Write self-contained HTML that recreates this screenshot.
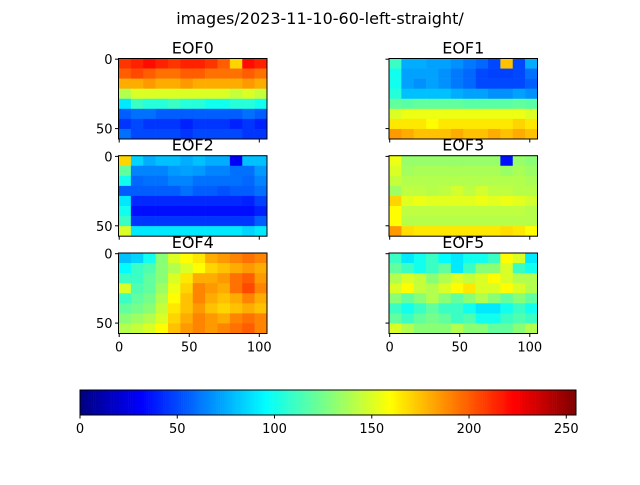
<!DOCTYPE html>
<html><head><meta charset="utf-8"><style>
body{margin:0;background:#fff}
svg text{font-family:"DejaVu Sans","Liberation Sans",sans-serif;fill:#000}
</style></head><body>
<svg id="fig" width="640" height="480" viewBox="0 0 640 480">
<text x="320" y="24" font-size="16" text-anchor="middle">images/2023-11-10-60-left-straight/</text>
</svg>
<script>
const panelTitles = ["EOF0","EOF1","EOF2","EOF3","EOF4","EOF5"];
const xTicks = [0,50,100];
const yTicks = [0,50];
const cbTicks = [0,50,100,150,200,250];
const eof0 = [
[210,215,220,215,210,215,215,210,200,170,220,215],
[200,205,200,195,195,200,200,195,195,195,200,195],
[180,180,185,180,180,185,180,180,180,180,185,180],
[140,150,150,150,150,150,150,150,150,145,150,145],
[90,110,105,105,110,105,105,100,100,105,105,100],
[55,60,60,55,55,55,55,55,55,55,60,55],
[45,50,45,45,45,40,45,45,45,40,45,40],
[60,50,50,50,50,45,50,50,50,50,45,45]];
const eof1 = [
[110,75,75,72,72,68,62,58,50,175,50,75],
[100,72,72,72,68,62,58,50,48,48,50,60],
[100,72,68,72,68,62,58,50,50,50,50,55],
[105,80,80,80,80,75,72,72,68,68,72,68],
[120,118,120,120,120,120,118,118,118,118,120,118],
[150,155,155,155,155,155,155,155,155,155,155,150],
[165,165,165,160,165,165,165,165,165,165,170,165],
[185,180,175,175,175,180,175,175,180,175,180,175]];
const eof2 = [
[170,85,75,80,80,75,80,75,75,30,80,80],
[120,65,65,65,70,72,70,65,65,60,60,70],
[100,58,60,60,65,65,60,60,60,60,58,65],
[55,55,55,55,55,60,55,55,52,55,55,60],
[90,42,42,42,42,42,42,42,42,42,40,48],
[100,35,35,35,35,35,35,35,35,35,35,40],
[110,45,45,45,45,45,45,45,45,45,45,55],
[150,90,90,90,90,90,90,90,90,90,85,90]];
const eof3 = [
[155,133,133,133,133,133,133,133,133,35,133,130],
[150,136,138,138,138,138,138,138,138,134,138,134],
[145,140,140,140,140,140,140,140,140,140,140,138],
[135,143,143,141,143,148,143,148,143,143,141,141],
[170,152,155,152,152,152,152,155,152,155,152,148],
[160,143,143,143,143,143,143,143,143,143,143,141],
[160,141,141,141,141,141,141,141,141,141,141,141],
[185,168,165,165,165,165,165,165,165,168,165,160]];
const eof4 = [
[80,85,100,130,150,160,165,180,185,190,195,190],
[95,110,115,130,140,150,160,170,175,180,185,180],
[110,110,120,130,150,165,180,180,185,195,200,185],
[150,115,120,135,155,170,190,185,180,195,205,190],
[110,120,125,140,160,175,190,180,175,180,190,180],
[120,125,130,145,165,175,185,175,170,175,180,175],
[130,135,140,150,170,180,190,185,180,190,195,190],
[140,145,150,160,175,185,190,185,190,195,200,190]];
const eof5 = [
[110,90,100,110,95,90,100,100,110,160,150,90],
[120,110,100,110,120,90,110,130,130,150,110,100],
[140,150,145,130,140,150,145,150,160,150,140,140],
[150,160,145,140,150,160,165,150,150,160,150,140],
[130,120,130,140,130,120,130,140,130,120,130,120],
[110,100,110,120,110,110,100,90,90,100,110,100],
[120,110,120,125,120,110,115,100,100,110,115,110],
[150,140,130,130,130,140,130,130,120,120,130,140]];
const panels = [eof0,eof1,eof2,eof3,eof4,eof5];

const NS="http://www.w3.org/2000/svg";
const svg=document.getElementById('fig');
function mk(tag,attrs,parent){const e=document.createElementNS(NS,tag);for(const k in attrs)e.setAttribute(k,attrs[k]);(parent||svg).appendChild(e);return e;}
function cl(v){return Math.max(0,Math.min(1,v));}
function jet(v){const x=v/255;const r=cl(1.5-Math.abs(4*x-3)),g=cl(1.5-Math.abs(4*x-2)),b=cl(1.5-Math.abs(4*x-1));
return `rgb(${Math.round(r*255)},${Math.round(g*255)},${Math.round(b*255)})`;}

const W=106,H=58;
const colX=[118.5,389], rowY=[58.5,155.7,253], pw=148.5, ph=80.5;
panels.forEach((grid,i)=>{
  const col=i%2,row=Math.floor(i/2);
  const x0=colX[col],y0=rowY[row];
  const xs=d=>x0+(d+0.5)/W*pw, ys=d=>y0+(d+0.5)/H*ph;
  const g=mk('g',{});
  
  
  const nr=grid.length,nc=grid[0].length;
  grid.forEach((rowv,r)=>rowv.forEach((v,c)=>{
    const xa=c*W/nc-0.5, xb=(c+1)*W/nc-0.5, ya=r*H/nr-0.5, yb=(r+1)*H/nr-0.5;
    const rc=mk('rect',{x:xs(xa),y:ys(ya),width:xs(xb)-xs(xa)+0.3,height:ys(yb)-ys(ya)+0.3,fill:jet(v)},g);
    
    
  }));
  const fr=mk('rect',{x:x0,y:y0,width:pw,height:ph,fill:'none',stroke:'#000','stroke-width':1},g);
  
  
  const t=mk('text',{x:x0+pw/2,y:y0-5,'font-size':16,'text-anchor':'middle'},g);t.textContent=panelTitles[i];
  
  
  xTicks.forEach(v=>{const X=xs(v);mk('line',{x1:X,x2:X,y1:y0+ph,y2:y0+ph+3.5,stroke:'#000'},g);
    if(row===2){const tl=mk('text',{x:X,y:y0+ph+18,'font-size':13,'text-anchor':'middle'},g);tl.textContent=v;
    
    }});
  yTicks.forEach(v=>{const Y=ys(v);mk('line',{x1:x0,x2:x0-3.5,y1:Y,y2:Y,stroke:'#000'},g);
    if(col===0){const tl=mk('text',{x:x0-6,y:Y+5,'font-size':13,'text-anchor':'end'},g);tl.textContent=v;
    
    }});
});

const cbx=80,cbw=496,cby=390,cbh=25;
const cs=v=>cbx+v/255*cbw;
const cb=mk('g',{});


for(let v=0;v<255;v++){mk('rect',{x:cs(v),y:cby,width:cs(v+1)-cs(v)+0.3,height:cbh,fill:jet(v+0.5)},cb);}
mk('rect',{x:cbx,y:cby,width:cbw,height:cbh,fill:'none',stroke:'#000'},cb);
cbTicks.forEach(v=>{const X=cs(v);mk('line',{x1:X,x2:X,y1:cby+cbh,y2:cby+cbh+3.5,stroke:'#000'},cb);
  const tl=mk('text',{x:X,y:cby+cbh+18,'font-size':13,'text-anchor':'middle'},cb);tl.textContent=v;
  
  });
</script>
</body></html>
